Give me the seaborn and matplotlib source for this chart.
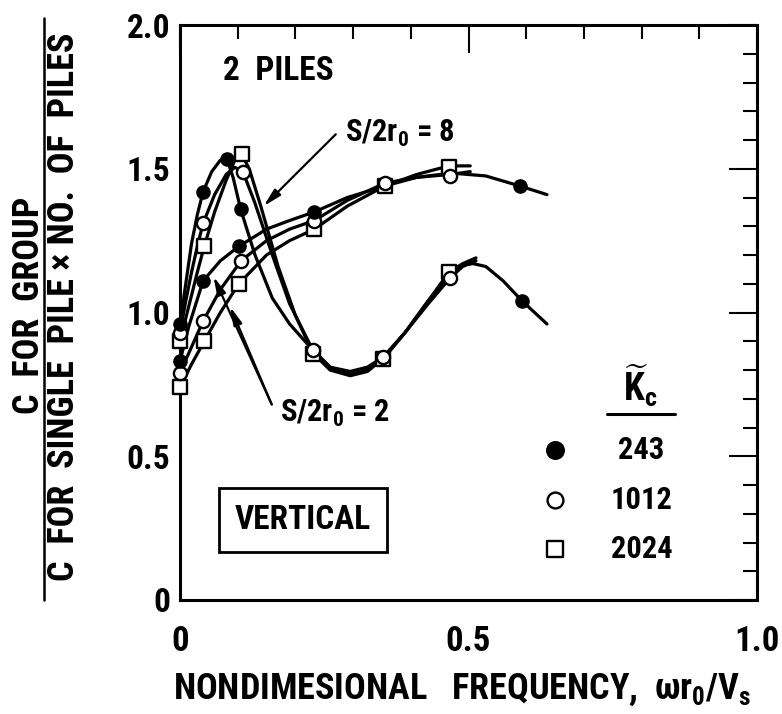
import numpy as np
import pandas as pd
import seaborn as sns
import matplotlib
matplotlib.use("Agg")
import matplotlib.pyplot as plt
from matplotlib import font_manager
from matplotlib.lines import Line2D

# ---------------- data ----------------
# S/2r0 = 8 curves
s8_243_x = [0, 0.01, 0.02, 0.03, 0.04, 0.055, 0.07, 0.081, 0.092, 0.105, 0.13, 0.16, 0.19, 0.23,
            0.26, 0.295, 0.325, 0.355, 0.39, 0.43, 0.47, 0.49, 0.508, 0.53, 0.56, 0.593, 0.636]
s8_243_y = [0.96, 1.10, 1.24, 1.34, 1.42, 1.49, 1.53, 1.535, 1.47, 1.36, 1.20, 1.05, 0.96, 0.87,
            0.81, 0.785, 0.80, 0.845, 0.93, 1.04, 1.13, 1.165, 1.17, 1.16, 1.11, 1.04, 0.96]
s8_1012_x = [0, 0.01, 0.02, 0.03, 0.04, 0.06, 0.08, 0.095, 0.109, 0.13, 0.16, 0.19, 0.23,
             0.26, 0.295, 0.325, 0.352, 0.39, 0.43, 0.468, 0.49, 0.513]
s8_1012_y = [0.93, 1.04, 1.14, 1.23, 1.31, 1.41, 1.48, 1.505, 1.49, 1.38, 1.20, 1.03, 0.87,
             0.81, 0.795, 0.81, 0.845, 0.93, 1.03, 1.12, 1.16, 1.18]
s8_2024_x = [0, 0.01, 0.02, 0.03, 0.042, 0.06, 0.08, 0.095, 0.107, 0.12, 0.14, 0.17, 0.20, 0.23,
             0.26, 0.295, 0.325, 0.352, 0.39, 0.43, 0.466, 0.49, 0.513]
s8_2024_y = [0.90, 0.98, 1.06, 1.14, 1.23, 1.35, 1.46, 1.53, 1.55, 1.50, 1.37, 1.16, 0.99, 0.86,
             0.80, 0.78, 0.795, 0.84, 0.93, 1.04, 1.14, 1.17, 1.19]
# S/2r0 = 2 curves
s2_243_x = [0, 0.015, 0.04, 0.07, 0.102, 0.15, 0.19, 0.233, 0.29, 0.355, 0.41, 0.47, 0.53, 0.589, 0.636]
s2_243_y = [0.83, 0.95, 1.11, 1.18, 1.23, 1.29, 1.32, 1.35, 1.40, 1.44, 1.47, 1.485, 1.475, 1.44, 1.41]
s2_1012_x = [0, 0.02, 0.04, 0.07, 0.106, 0.15, 0.19, 0.233, 0.29, 0.355, 0.41, 0.468, 0.503]
s2_1012_y = [0.79, 0.88, 0.97, 1.08, 1.18, 1.25, 1.29, 1.32, 1.39, 1.45, 1.47, 1.48, 1.49]
s2_2024_x = [0, 0.02, 0.042, 0.07, 0.102, 0.15, 0.19, 0.233, 0.29, 0.355, 0.41, 0.466, 0.503]
s2_2024_y = [0.74, 0.82, 0.90, 1.00, 1.10, 1.20, 1.25, 1.29, 1.37, 1.44, 1.48, 1.51, 1.51]

# plotted data points (markers)
m8_243_x = [0, 0.040, 0.081, 0.105, 0.593]
m8_243_y = [0.96, 1.42, 1.535, 1.36, 1.04]
m8_1012_x = [0, 0.040, 0.109, 0.23, 0.352, 0.468]
m8_1012_y = [0.93, 1.31, 1.49, 0.87, 0.845, 1.12]
m8_2024_x = [0, 0.042, 0.107, 0.23, 0.352, 0.466]
m8_2024_y = [0.90, 1.23, 1.55, 0.855, 0.84, 1.14]
m2_243_x = [0, 0.040, 0.102, 0.233, 0.589]
m2_243_y = [0.83, 1.11, 1.23, 1.35, 1.44]
m2_1012_x = [0, 0.040, 0.106, 0.233, 0.355, 0.468]
m2_1012_y = [0.79, 0.97, 1.18, 1.32, 1.45, 1.475]
m2_2024_x = [0, 0.042, 0.102, 0.233, 0.355, 0.466]
m2_2024_y = [0.74, 0.90, 1.10, 1.29, 1.44, 1.505]

kc_labels = ["243", "1012", "2024"]
x_ticks = [0, 0.5, 1.0]
x_ticklabels = ["0", "0.5", "1.0"]
y_ticks = [0, 0.5, 1.0, 1.5, 2.0]
y_ticklabels = ["0", "0.5", "1.0", "1.5", "2.0"]

# ---------------- style ----------------
sns.set_theme(style="white")

fm_list = font_manager.fontManager.ttflist
names = {f.name for f in fm_list}
FAM, STRETCH, SC = None, "normal", 1.0
for cand in ["Liberation Sans Narrow", "Roboto Condensed", "Open Sans Condensed",
             "Noto Sans Condensed", "DejaVu Sans Condensed", "Arial Narrow", "Nimbus Sans Narrow"]:
    if cand in names:
        FAM = cand
        break
if FAM is None:
    for pref in ["DejaVu Sans", "Noto Sans", "Roboto", "Open Sans", "Liberation Sans"]:
        cond = [f for f in fm_list if f.name == pref and str(f.stretch) in
                ("condensed", "semi-condensed", "extra-condensed", "600", "700", "750", "62.5", "75", "87.5")]
        if cond:
            FAM, STRETCH = pref, "condensed"
            break
if FAM is None:
    FAM, SC = "DejaVu Sans", 0.84

plt.rcParams["font.family"] = [FAM, "DejaVu Sans"]
plt.rcParams["font.weight"] = "bold"
plt.rcParams["font.stretch"] = STRETCH
for k in ["text.color", "axes.labelcolor", "xtick.color", "ytick.color", "axes.edgecolor"]:
    plt.rcParams[k] = "black"
spec = FAM + ":bold" + (":condensed" if STRETCH != "normal" else "")
plt.rcParams["mathtext.fontset"] = "custom"
plt.rcParams["mathtext.rm"] = spec
plt.rcParams["mathtext.it"] = spec
plt.rcParams["mathtext.bf"] = spec
plt.rcParams["mathtext.sf"] = spec

def fs(v):
    return v * SC

fig = plt.figure(figsize=(7.82, 7.14), dpi=100)
ax = fig.add_axes([180 / 782, 1 - 600 / 714, 577 / 782, 575 / 714])

LW = 2.3
curves = [
    (s8_243_x, s8_243_y), (s8_1012_x, s8_1012_y), (s8_2024_x, s8_2024_y),
    (s2_243_x, s2_243_y), (s2_1012_x, s2_1012_y), (s2_2024_x, s2_2024_y),
]
for cx, cy in curves:
    sns.lineplot(x=cx, y=cy, sort=False, estimator=None, color="black", lw=LW, ax=ax, zorder=2)

MS = 90
for mx, my in [(m8_2024_x, m8_2024_y), (m2_2024_x, m2_2024_y)]:
    sns.scatterplot(x=mx, y=my, marker="s", s=MS, color="white", edgecolor="black",
                    linewidth=1.7, ax=ax, zorder=3, clip_on=False)
for mx, my in [(m8_1012_x, m8_1012_y), (m2_1012_x, m2_1012_y)]:
    sns.scatterplot(x=mx, y=my, marker="o", s=MS, color="white", edgecolor="black",
                    linewidth=1.7, ax=ax, zorder=4, clip_on=False)
for mx, my in [(m8_243_x, m8_243_y), (m2_243_x, m2_243_y)]:
    sns.scatterplot(x=mx, y=my, marker="o", s=MS, color="black", edgecolor="black",
                    linewidth=1.0, ax=ax, zorder=5, clip_on=False)

# ---------------- axes ----------------
ax.set_xlim(0, 1.0)
ax.set_ylim(0, 2.0)
ax.set_xticks(x_ticks)
ax.set_xticks(np.round(np.arange(0, 1.001, 0.1), 2), minor=True)
ax.set_yticks(y_ticks)
ax.set_yticks(np.round(np.arange(0, 2.001, 0.1), 2), minor=True)
ax.set_xticklabels(x_ticklabels, fontsize=fs(25), fontweight="bold")
ax.set_yticklabels(y_ticklabels, fontsize=fs(24), fontweight="bold")
ax.tick_params(which="both", direction="in", top=True, right=True, color="black", width=1.5)
ax.tick_params(which="major", length=20)
ax.tick_params(which="minor", length=10)
ax.tick_params(axis="x", which="major", pad=18)
ax.tick_params(axis="y", which="major", pad=7)
for sp in ax.spines.values():
    sp.set_color("black")
    sp.set_linewidth(2.2)
ax.set_xlabel("")
ax.set_ylabel("")

# ---------------- annotations ----------------
ax.text(0.075, 1.84, "2  PILES", fontsize=fs(24), fontweight="bold", ha="left", va="center")
ax.text(0.286, 1.624, "S/2r$_{0}$ = 8", fontsize=fs(22), fontweight="bold", ha="left", va="center")
ax.text(0.173, 0.65, "S/2r$_{0}$ = 2", fontsize=fs(22), fontweight="bold", ha="left", va="center")
aprops = dict(arrowstyle="-|>,head_length=0.9,head_width=0.22", color="black", lw=1.6,
              shrinkA=0, shrinkB=0)
ax.annotate("", xy=(0.145, 1.37), xytext=(0.27, 1.62), arrowprops=aprops, zorder=6)
ax.annotate("", xy=(0.058, 1.125), xytext=(0.159, 0.68), arrowprops=aprops, zorder=6)
ax.annotate("", xy=(0.087, 1.02), xytext=(0.159, 0.68), arrowprops=aprops, zorder=6)

ax.text(0.213, 0.278, "VERTICAL", fontsize=fs(24), fontweight="bold", ha="center", va="center",
        bbox=dict(boxstyle="square,pad=0.48", facecolor="white", edgecolor="black", linewidth=2))

# legend (K~c table)
ax.text(0.797, 0.745, r"$\widetilde{K}_{c}$", fontsize=fs(27), ha="center", va="center")
ax.plot([0.74, 0.858], [0.647, 0.647], color="black", lw=2.2)
leg_y = [0.522, 0.348, 0.177]
sns.scatterplot(x=[0.65], y=[leg_y[0]], marker="o", s=160, color="black", edgecolor="black", ax=ax, zorder=5)
sns.scatterplot(x=[0.65], y=[leg_y[1]], marker="o", s=130, color="white", edgecolor="black",
                linewidth=1.7, ax=ax, zorder=5)
sns.scatterplot(x=[0.65], y=[leg_y[2]], marker="s", s=140, color="white", edgecolor="black",
                linewidth=1.7, ax=ax, zorder=5)
for lab, yy in zip(kc_labels, leg_y):
    ax.text(0.80, yy, lab, fontsize=fs(22), fontweight="bold", ha="center", va="center")

# ---------------- axis titles ----------------
fig.text(462 / 782, 1 - 690 / 714, r"NONDIMESIONAL   FREQUENCY,  $\omega r_{0}/V_{s}$",
         fontsize=fs(26), fontweight="bold", ha="center", va="center")
fig.text(29 / 782, 1 - 305 / 714, "C  FOR  GROUP", fontsize=fs(26), fontweight="bold",
         rotation=90, ha="center", va="center")
fig.text(64 / 782, 1 - 307 / 714, "C  FOR  SINGLE  PILE \u00d7 NO.  OF  PILES", fontsize=fs(26),
         fontweight="bold", rotation=90, ha="center", va="center")
fig.add_artist(Line2D([44 / 782, 44 / 782], [1 - 18 / 714, 1 - 600 / 714],
                      transform=fig.transFigure, color="black", lw=1.8))

fig.savefig("out.png", dpi=100, facecolor="white")
